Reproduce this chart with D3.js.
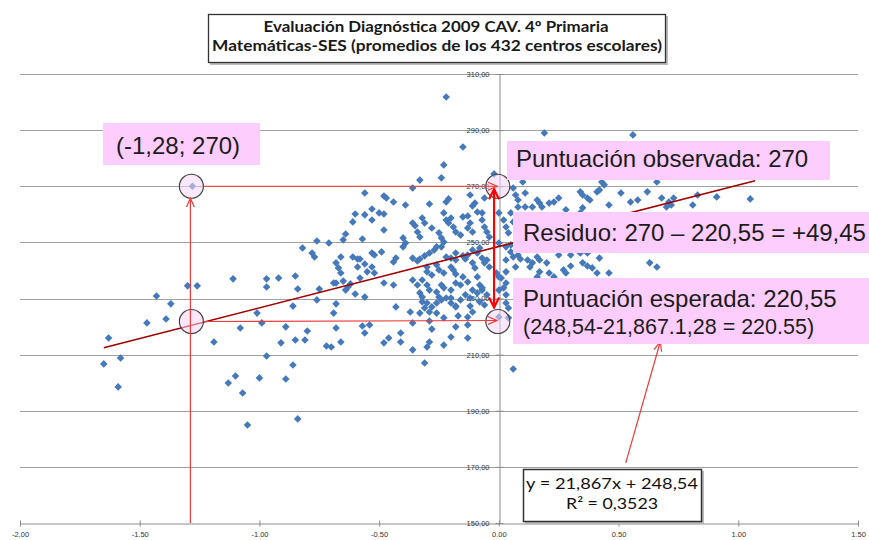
<!DOCTYPE html>
<html>
<head>
<meta charset="utf-8">
<script src="https://d3js.org/d3.v7.min.js"></script>
<style>
  body { margin: 0; background: #fff; }
  svg { display: block; }
</style>
</head>
<body>
<script>
// school averages: [SES index, maths score]
var schools = [
  [-1.63,215.9],[-1.65,206.7],[-1.58,208.8],[-1.59,198.5],[-1.47,221.3],[-1.43,230.9],[-1.37,228.1],[-1.39,222.7],
  [-1.30,234.5],[-1.26,234.5],[-1.19,214.5],[-1.11,237.0],[-1.08,219.5],[-1.13,199.9],[-1.10,202.4],[-1.07,196.3],
  [-1.05,184.9],[-1.01,224.8],[-0.99,221.3],[-1.00,201.7],[-0.97,209.5],[-0.97,237.0],[-0.97,234.1],[-0.92,237.3],
  [-0.91,214.2],[-0.89,201.3],[-0.89,219.9],[-0.86,206.3],[-0.85,238.0],[-0.84,233.4],[-0.86,227.3],[-0.85,215.2],
  [-0.84,187.1],[-1.28,270.0],
  [-0.82,248.0],[-0.78,246.2],[-0.77,244.8],[-0.76,250.5],[-0.71,249.8],[-0.75,233.4],[-0.76,229.5],[-0.80,218.4],
  [-0.81,215.2],[-0.72,213.1],[-0.70,212.7],[-0.68,242.7],[-0.67,240.9],[-0.66,239.1],[-0.66,244.8],[-0.69,235.5],
  [-0.68,235.5],[-0.65,236.2],[-0.64,233.0],[-0.63,234.1],[-0.62,235.2],[-0.60,231.6],[-0.68,228.1],[-0.69,224.8],
  [-0.68,219.5],[-0.66,214.5],[-0.64,253.0],[-0.65,250.9],[-0.61,257.3],[-0.60,260.1],[-0.56,259.8],[-0.56,267.6],
  [-0.57,251.2],[-0.61,244.8],[-0.59,244.1],[-0.58,244.1],[-0.56,242.3],[-0.59,241.2],[-0.55,239.5],[-0.58,237.3],
  [-0.56,230.5],[-0.57,220.2],[-0.54,220.6],[-0.56,217.7],
  [-0.22,301.8],[-0.15,284.0],[-0.23,277.6],[-0.24,273.0],[-0.33,272.2],[-0.36,269.4],[-0.48,266.5],[-0.47,265.8],
  [-0.44,264.4],[-0.39,263.3],[-0.29,263.7],[-0.21,265.5],[-0.22,264.4],[-0.53,261.9],[-0.50,260.5],[-0.48,260.1],
  [-0.53,258.0],[-0.48,254.4],[-0.36,256.9],[-0.35,255.9],[-0.32,258.7],[-0.31,256.9],[-0.28,255.1],[-0.23,260.5],
  [-0.22,258.0],[-0.21,256.9],[-0.20,258.7],[-0.19,255.5],[-0.18,253.7],[-0.16,252.6],[-0.15,259.1],[-0.13,259.4],
  [-0.11,263.0],[-0.10,264.0],[-0.09,260.8],[-0.07,260.5],[-0.07,258.0],[-0.12,256.9],[-0.13,255.1],[-0.11,253.7],
  [-0.06,255.5],[-0.05,253.7],[-0.04,251.9],[-0.25,253.4],[-0.24,251.6],[-0.23,250.1],[-0.34,253.7],[-0.33,251.9],
  [-0.40,251.6],[-0.39,249.8],[-0.40,248.4],[-0.49,246.6],[-0.53,246.2],[-0.52,245.5],[-0.43,244.4],[-0.44,243.0],
  [-0.36,244.4],[-0.34,243.4],[-0.33,244.1],[-0.31,245.2],[-0.29,246.2],[-0.27,247.3],[-0.26,248.4],[-0.24,248.4],
  [-0.22,244.8],[-0.20,244.4],[-0.18,246.2],[-0.18,243.7],[-0.15,245.2],[-0.14,244.1],[-0.13,245.5],[-0.11,247.3],
  [-0.09,246.2],[-0.08,248.0],[-0.07,244.4],[-0.06,242.7],[-0.05,243.7],[-0.04,241.2],[-0.11,242.7],[-0.10,240.9],
  [-0.30,241.2],[-0.30,239.5],[-0.28,238.4],[-0.26,242.0],[-0.25,240.2],[-0.23,239.1],[-0.20,241.2],[-0.19,240.2],
  [-0.18,238.7],[-0.15,237.7],[-0.13,235.9],[-0.09,237.7],[-0.08,234.8],[-0.07,233.8],[-0.53,241.2],[-0.52,239.1],
  [-0.48,235.5],[-0.44,234.8],[-0.36,236.6],[-0.34,234.8],[-0.32,236.6],[-0.30,234.8],[-0.29,233.0],[-0.24,234.8],
  [-0.23,233.8],[-0.20,233.0],[-0.18,235.5],[-0.16,234.8],[-0.26,232.3],[-0.25,230.5],[-0.33,232.0],[-0.32,230.5],
  [-0.32,228.8],[-0.30,228.4],[-0.28,227.0],[-0.31,226.6],[-0.26,228.4],[-0.24,229.5],[-0.22,230.2],[-0.20,230.2],
  [-0.20,228.4],[-0.18,227.3],[-0.16,229.5],[-0.14,231.3],[-0.12,230.2],[-0.11,233.0],[-0.09,232.0],[-0.07,233.0],
  [-0.05,231.3],[-0.08,228.8],[-0.06,227.7],[-0.12,227.3],[-0.11,225.2],[-0.43,227.0],[-0.37,225.2],[-0.33,224.8],
  [-0.29,225.2],[-0.26,224.8],[-0.23,223.1],[-0.18,227.0],[-0.17,223.8],[-0.13,223.4],[-0.13,220.6],[-0.36,221.3],
  [-0.29,222.0],[-0.28,219.1],[-0.46,215.9],[-0.48,214.2],[-0.41,217.7],[-0.41,214.5],[-0.36,211.7],[-0.30,212.7],
  [-0.29,214.5],[-0.31,207.0],[-0.18,219.9],[-0.20,216.3],[-0.23,213.4],[-0.13,215.9],[-0.12,266.9],[-0.06,265.8],
  [-0.02,274.4],
  [0.19,289.0],[0.56,288.3],[0.10,271.5],[0.43,271.5],[0.44,270.5],[0.66,271.5],[0.06,269.4],[0.07,266.9],
  [0.11,267.6],[0.08,265.1],[0.08,262.6],[0.16,265.1],[0.17,264.0],[0.18,262.6],[0.11,262.6],[0.14,262.6],
  [0.21,264.0],[0.23,264.4],[0.25,265.8],[0.28,261.6],[0.34,268.0],[0.35,266.9],[0.37,265.8],[0.38,265.1],
  [0.35,262.3],[0.34,260.5],[0.41,268.0],[0.42,268.7],[0.46,263.3],[0.51,267.6],[0.55,264.4],[0.58,265.1],
  [0.62,268.0],[0.68,265.8],[0.71,264.4],[0.73,265.8],[0.70,262.6],[0.72,263.3],[0.81,263.3],[0.83,266.9],
  [0.91,266.2],[1.05,265.5],[0.08,245.5],[0.09,244.1],[0.03,243.7],[0.16,244.8],[0.17,243.7],[0.13,241.2],
  [0.14,242.7],[0.20,242.7],[0.25,245.5],[0.30,245.5],[0.34,246.2],[0.37,246.2],[0.42,244.4],[0.35,242.7],
  [0.37,241.6],[0.39,240.9],[0.41,239.1],[0.30,241.6],[0.28,239.1],[0.21,239.1],[0.17,239.5],[0.16,237.7],
  [0.46,239.1],[0.63,242.7],[0.66,241.2],[0.07,241.2],[0.03,239.5],[0.01,237.3],[-0.01,239.1],[0.02,233.8],
  [0.00,260.5],[0.02,258.0],[0.05,260.5],[0.08,259.1],[0.06,257.3],[0.03,255.5],[0.04,253.4],[0.00,249.8],
  [0.03,248.4],[0.05,249.1],[0.05,246.6],[0.06,244.8],[0.00,237.7],[0.03,235.5],[0.00,233.0],[0.03,231.3],
  [0.03,228.4],[0.04,226.6],[0.00,223.4],[0.04,223.1],[0.06,204.9],[0.12,243.7],[0.23,237.7],[0.27,240.2]
];

var xTicks = [-2, -1.5, -1, -0.5, 0, 0.5, 1, 1.5];
var xTickLabels = ["-2.00", "-1.50", "-1.00", "-0.50", "0.00", "0.50", "1.00", "1.50"];
var yTicks = [150, 170, 190, 210, 230, 250, 270, 290, 310];
var yTickLabels = ["150,00", "170,00", "190,00", "210,00", "230,00", "250,00", "270,00", "290,00", "310,00"];

// linear trend from the chart
var slope = 21.867, intercept = 248.54;
var trendRange = [-1.65, 1.07];

// worked example school
var exampleX = -1.28, observedY = 270, expectedY = 221.8;
var rightX = 0, arrowX = -0.02;
var eqPointer = [[0.53, 171.4], [0.674, 214.5]];

var width = 869, height = 540;
var svg = d3.select("body").append("svg")
    .attr("width", width)
    .attr("height", height);

var x = d3.scaleLinear().domain([-2, 1.5]).range([20, 858]);
var y = d3.scaleLinear().domain([150, 310]).range([523, 74]);

var defs = svg.append("defs");
defs.append("marker")
    .attr("id", "thinArrow")
    .attr("viewBox", "0 0 10 10")
    .attr("refX", 9).attr("refY", 5)
    .attr("markerWidth", 10).attr("markerHeight", 10)
    .attr("markerUnits", "userSpaceOnUse")
    .attr("orient", "auto-start-reverse")
  .append("path")
    .attr("d", "M0,1 L9,5 L0,9")
    .attr("fill", "none")
    .attr("stroke", "#ee3b3b")
    .attr("stroke-width", 1.2);
defs.append("marker")
    .attr("id", "boldArrow")
    .attr("viewBox", "0 0 12 12")
    .attr("refX", 11).attr("refY", 6)
    .attr("markerWidth", 12).attr("markerHeight", 12)
    .attr("markerUnits", "userSpaceOnUse")
    .attr("orient", "auto-start-reverse")
  .append("path")
    .attr("d", "M1,1 L11,6 L1,11")
    .attr("fill", "none")
    .attr("stroke", "#ff0000")
    .attr("stroke-width", 2.2);

// gridlines
svg.append("g").selectAll("line")
    .data(yTicks.filter(function (d) { return d > 150; }))
    .enter().append("line")
    .attr("x1", x(-2)).attr("x2", x(1.5))
    .attr("y1", function (d) { return Math.round(y(d)) + 0.5; })
    .attr("y2", function (d) { return Math.round(y(d)) + 0.5; })
    .attr("stroke", "#a0a0a0")
    .attr("stroke-width", 1.2);

// x axis along 150
var xAxis = svg.append("g")
    .attr("transform", "translate(0," + (Math.round(y(150)) + 0.5) + ")")
    .call(d3.axisBottom(x).tickValues(xTicks)
      .tickFormat(function (d, i) { return xTickLabels[i]; })
      .tickSizeInner(4).tickSizeOuter(0).tickPadding(4));
xAxis.select(".domain").attr("stroke", "#8c8c8c");
xAxis.selectAll(".tick line").attr("y1", -3).attr("y2", 3).attr("stroke", "#8c8c8c");
xAxis.selectAll("text")
    .style("font-family", "Liberation Sans, Arial, sans-serif")
    .style("font-size", "7.5px")
    .attr("fill", "#333");

// y axis through x = 0
var yAxis = svg.append("g")
    .attr("transform", "translate(" + (Math.round(x(0)) + 0.5) + ",0)")
    .call(d3.axisLeft(y).tickValues(yTicks)
      .tickFormat(function (d, i) { return yTickLabels[i]; })
      .tickSizeInner(4).tickSizeOuter(0).tickPadding(6));
yAxis.select(".domain").attr("stroke", "#8c8c8c");
yAxis.selectAll(".tick line").attr("x1", -4).attr("x2", 4).attr("stroke", "#8c8c8c");
yAxis.selectAll("text")
    .style("font-family", "Liberation Sans, Arial, sans-serif")
    .style("font-size", "7.5px")
    .attr("fill", "#333");

// schools
svg.append("g").selectAll("path")
    .data(schools)
    .enter().append("path")
    .attr("d", "M0,-3.8L3.8,0L0,3.8L-3.8,0Z")
    .attr("transform", function (d) { return "translate(" + x(d[0]) + "," + y(d[1]) + ")"; })
    .attr("fill", "#4679ba");

// trendline
svg.append("line")
    .attr("x1", x(trendRange[0])).attr("y1", y(slope * trendRange[0] + intercept))
    .attr("x2", x(trendRange[1])).attr("y2", y(slope * trendRange[1] + intercept))
    .attr("stroke", "#a00000")
    .attr("stroke-width", 1.6);

// annotation circles
var rCirc = 12;
var circles = [[exampleX, observedY], [exampleX, expectedY], [rightX, observedY], [rightX, expectedY]];
svg.append("g").selectAll("circle")
    .data(circles)
    .enter().append("circle")
    .attr("cx", function (d) { return x(d[0]) - 1; })
    .attr("cy", function (d) { return y(d[1]); })
    .attr("r", rCirc)
    .attr("fill", "#f5d6f5")
    .attr("fill-opacity", 0.55)
    .attr("stroke", "#444")
    .attr("stroke-width", 1.2);

// red helper lines
var thin = svg.append("g")
    .attr("stroke", "#ee3b3b")
    .attr("stroke-width", 1.2)
    .attr("fill", "none");
thin.append("line")
    .attr("x1", x(exampleX) - 2).attr("x2", x(exampleX) - 2)
    .attr("y1", y(150)).attr("y2", y(observedY) + rCirc)
    .attr("marker-end", "url(#thinArrow)");
thin.append("line")
    .attr("x1", x(exampleX) + rCirc - 1).attr("x2", x(rightX) - 2)
    .attr("y1", y(observedY)).attr("y2", y(observedY))
    .attr("marker-end", "url(#thinArrow)");
thin.append("line")
    .attr("x1", x(exampleX) + rCirc - 1).attr("x2", x(rightX) - 2)
    .attr("y1", y(expectedY)).attr("y2", y(expectedY) - 1)
    .attr("marker-end", "url(#thinArrow)");
thin.append("line")
    .attr("x1", x(eqPointer[0][0])).attr("y1", y(eqPointer[0][1]))
    .attr("x2", x(eqPointer[1][0])).attr("y2", y(eqPointer[1][1]))
    .attr("marker-end", "url(#thinArrow)");

// residual double arrow
svg.append("line")
    .attr("x1", x(arrowX)).attr("x2", x(arrowX))
    .attr("y1", y(observedY) + 3).attr("y2", y(expectedY) - 14)
    .attr("stroke", "#ff0000")
    .attr("stroke-width", 2.2)
    .attr("marker-start", "url(#boldArrow)")
    .attr("marker-end", "url(#boldArrow)");

// pink call-outs
var pink = "#fdcdfd";
var labelFont = "Liberation Sans, Arial, sans-serif";
var callouts = [
  { box: [103, 123, 157, 42], lines: [["(-1,28; 270)", 116, 154, 24]] },
  { box: [507, 141, 323, 39], lines: [["Puntuación observada: 270", 516, 167, 24]] },
  { box: [513, 212, 360, 41], lines: [["Residuo: 270 \u2013 220,55 = +49,45", 523, 241, 24]] },
  { box: [513, 278, 360, 66], lines: [["Puntuación esperada: 220,55", 523, 307, 24],
                                      ["(248,54-21,867.1,28 = 220.55)", 523, 334, 21.5]] }
];
callouts.forEach(function (c) {
  svg.append("rect")
      .attr("x", c.box[0]).attr("y", c.box[1])
      .attr("width", c.box[2]).attr("height", c.box[3])
      .attr("fill", pink);
  c.lines.forEach(function (l) {
    svg.append("text")
        .attr("x", l[1]).attr("y", l[2])
        .style("font-family", labelFont)
        .style("font-size", l[3] + "px")
        .attr("fill", "#1c1c1c")
        .text(l[0]);
  });
});

// equation box
svg.append("rect")
    .attr("x", 525).attr("y", 471).attr("width", 179).attr("height", 53)
    .attr("fill", "#bbb");
svg.append("rect")
    .attr("x", 523.5).attr("y", 469.5).attr("width", 178).attr("height", 52)
    .attr("fill", "#fff")
    .attr("stroke", "#333")
    .attr("stroke-width", 1.5);
svg.append("text")
    .attr("x", 612).attr("y", 489)
    .attr("text-anchor", "middle")
    .attr("textLength", 172).attr("lengthAdjust", "spacingAndGlyphs")
    .style("font-family", "Lato, sans-serif")
    .style("font-size", "15.5px")
    .attr("fill", "#111")
    .text("y = 21,867x + 248,54");
svg.append("text")
    .attr("x", 612).attr("y", 509)
    .attr("text-anchor", "middle")
    .attr("textLength", 92).attr("lengthAdjust", "spacingAndGlyphs")
    .style("font-family", "Lato, sans-serif")
    .style("font-size", "15.5px")
    .attr("fill", "#111")
    .text("R\u00b2 = 0,3523");

// title box
svg.append("rect")
    .attr("x", 210).attr("y", 16).attr("width", 458).attr("height", 49)
    .attr("fill", "#bbb");
svg.append("rect")
    .attr("x", 208.5).attr("y", 14.5).attr("width", 457).attr("height", 48)
    .attr("fill", "#fff")
    .attr("stroke", "#333")
    .attr("stroke-width", 1.3);
svg.append("text")
    .attr("x", 436).attr("y", 32)
    .attr("text-anchor", "middle")
    .attr("textLength", 345).attr("lengthAdjust", "spacingAndGlyphs")
    .style("font-family", "Lato, sans-serif")
    .style("font-weight", "bold")
    .style("font-size", "15.5px")
    .attr("fill", "#1a1a1a")
    .text("Evaluación Diagnóstica 2009 CAV. 4º Primaria");
svg.append("text")
    .attr("x", 437).attr("y", 51)
    .attr("text-anchor", "middle")
    .attr("textLength", 450).attr("lengthAdjust", "spacingAndGlyphs")
    .style("font-family", "Lato, sans-serif")
    .style("font-weight", "bold")
    .style("font-size", "15.5px")
    .attr("fill", "#1a1a1a")
    .text("Matemáticas-SES (promedios de los 432 centros escolares)");
</script>
</body>
</html>
